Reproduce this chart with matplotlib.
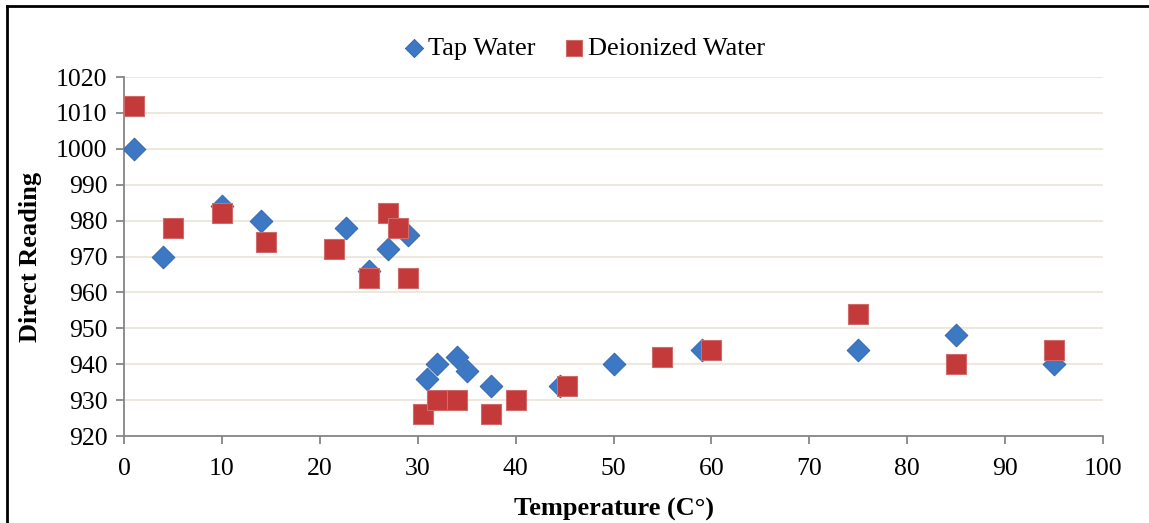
import matplotlib
matplotlib.use("Agg")
import matplotlib.pyplot as plt
from matplotlib.lines import Line2D

# ---------------------------------------------------------------- datos
tap_temp = [1, 4, 10, 14, 22.7, 25, 27, 29, 31, 32, 34, 35, 37.5, 44.5, 50, 59, 75, 85, 95]
tap_reading = [1000, 970, 984, 980, 978, 966, 972, 976, 936, 940, 942, 938, 934, 934, 940, 944, 944, 948, 940]

di_temp = [1, 5, 10, 14.5, 21.5, 25, 27, 28, 29, 30.5, 32, 34, 37.5, 40, 45.3, 55, 60, 75, 85, 95]
di_reading = [1012, 978, 982, 974, 972, 964, 982, 978, 964, 926, 930, 930, 926, 930, 934, 942, 944, 954, 940, 944]

x_ticks = list(range(0, 101, 10))
y_ticks = list(range(920, 1021, 10))

plt.rcParams["font.family"] = ["Liberation Serif", "DejaVu Serif"]

W, H = 1149, 523
fig = plt.figure(figsize=(W / 100, H / 100), dpi=100)
ax = fig.add_axes([124 / W, 1 - 436 / H, (1103 - 124) / W, (436 - 77) / H])

grid_col = "#ECE8DE"
axis_col = "#868686"

ax.scatter(tap_temp, tap_reading, marker="D", s=135, color="#3C78C3",
           edgecolors="#2F63A6", linewidths=0.6, zorder=3, label="Tap Water")
ax.scatter(di_temp, di_reading, marker="s", s=210, color="#C4393A",
           edgecolors="#D06B6B", linewidths=0.8, zorder=4, label="Deionized Water")

ax.set_xlim(0, 100)
ax.set_ylim(920, 1020)
ax.set_xticks(x_ticks)
ax.set_yticks(y_ticks)
ax.yaxis.grid(True, color=grid_col, lw=1.5)
ax.set_axisbelow(True)

for side in ("top", "right"):
    ax.spines[side].set_visible(False)
for side in ("left", "bottom"):
    ax.spines[side].set_color(axis_col)
    ax.spines[side].set_linewidth(1.3)
ax.tick_params(axis="both", colors=axis_col, labelcolor="black", labelsize=18.5,
               direction="out", length=6, width=1.3)
ax.tick_params(axis="y", pad=6)
ax.tick_params(axis="x", pad=10)

ax.set_xlabel("Temperature (C°)", fontsize=19, fontweight="bold", labelpad=13)
ax.set_ylabel("Direct Reading", fontsize=19, fontweight="bold", labelpad=10)

fig.legend(loc="upper center", bbox_to_anchor=(0.509, 0.975), ncol=2, frameon=False,
           fontsize=19, handlelength=0.7, handletextpad=0.2, columnspacing=1.1,
           markerscale=0.8)

# marco exterior (solo bordes izquierdo y superior visibles)
fig.add_artist(Line2D([7 / W, 7 / W], [0, 1 - 6 / H], transform=fig.transFigure,
                      color="black", lw=2))
fig.add_artist(Line2D([7 / W, 1], [1 - 6 / H, 1 - 6 / H], transform=fig.transFigure,
                      color="black", lw=2))

fig.savefig("out.png", dpi=100)
